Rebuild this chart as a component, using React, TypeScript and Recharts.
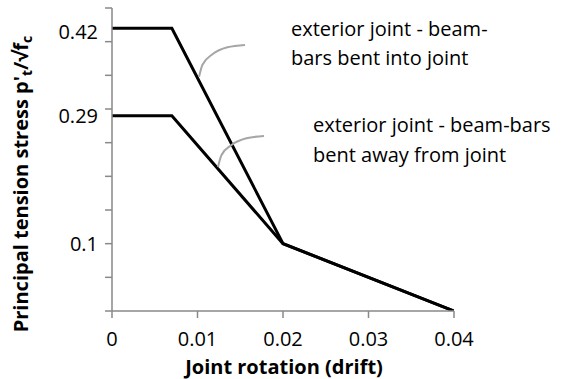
import React from 'react';
import { LineChart, Line, XAxis, YAxis, Customized } from 'recharts';

// drift values (x) and principal tension stress (y)
const driftInto = [0, 0.007, 0.02, 0.04];
const stressInto = [0.42, 0.42, 0.1, 0];
const driftAway = [0, 0.007, 0.02, 0.04];
const stressAway = [0.29, 0.29, 0.1, 0];

// grey pointer arcs linking the notes to the curves
const arcIntoX = [0.01018, 0.01058, 0.01175, 0.0135, 0.01556];
const arcIntoY = [0.3477, 0.3658, 0.3813, 0.3917, 0.3952];
const arcAwayX = [0.0124, 0.01281, 0.01398, 0.01572, 0.01778];
const arcAwayY = [0.214, 0.2316, 0.2465, 0.2565, 0.26];

const xTicks = [0, 0.01, 0.02, 0.03, 0.04];
const yTickMarks = [0, 0.05, 0.1, 0.15, 0.2, 0.25, 0.3, 0.35, 0.4, 0.45];
const yTickLabels = [0.1, 0.29, 0.42];

const noteInto = ['exterior joint - beam-', 'bars bent into joint'];
const noteAway = ['exterior joint - beam-bars', 'bent away from joint'];

const FONT = '"Open Sans", sans-serif';
const AXIS = '#898989';

const zip = (xs: number[], ys: number[]) => xs.map((x, i) => ({ x, y: ys[i] }));

const intoData = zip(driftInto, stressInto);
const awayData = zip(driftAway, stressAway);
const arcIntoData = zip(arcIntoX, arcIntoY);
const arcAwayData = zip(arcAwayX, arcAwayY);

const yTicksAll = [...yTickMarks, ...yTickLabels].filter((v, i, a) => a.indexOf(v) === i).sort((a, b) => a - b);

function YTick(props: any) {
  const { x, y, payload } = props;
  const v = payload.value;
  const shift = v === 0.42 ? 4 : 0;
  return (
    <g>
      {yTickMarks.includes(v) && <line x1={x - 7} x2={x} y1={y} y2={y} stroke={AXIS} strokeWidth={1.5} />}
      {yTickLabels.includes(v) && (
        <text x={x - 14} y={y + shift} dy="0.35em" textAnchor="end" fontSize={20} fontFamily={FONT} fill="#000">
          {v}
        </text>
      )}
    </g>
  );
}

function Notes() {
  return (
    <g fontFamily={FONT} fill="#000">
      <text x={291} y={36} fontSize={20}>{noteInto[0]}</text>
      <text x={291} y={65} fontSize={20}>{noteInto[1]}</text>
      <text x={313} y={132} fontSize={20}>{noteAway[0]}</text>
      <text x={313} y={162} fontSize={20}>{noteAway[1]}</text>
      <text x={284} y={374} fontSize={20} fontWeight="bold" textAnchor="middle">
        Joint rotation (drift)
      </text>
      <text transform="translate(28,184) rotate(-90)" fontSize={20} fontWeight="bold" textAnchor="middle">
        Principal tension stress p'
        <tspan fontSize={14} dy={4}>t</tspan>
        <tspan dy={-4}>/√f</tspan>
        <tspan fontSize={14} dy={4}>c</tspan>
      </text>
    </g>
  );
}

export default function App() {
  return (
    <div style={{ position: 'absolute', left: 0, top: 0, background: '#fff' }}>
      <LineChart width={563} height={379} margin={{ top: 8, right: 109, bottom: 0, left: 0 }}>
        <XAxis
          type="number"
          dataKey="x"
          domain={[0, 0.04]}
          ticks={xTicks}
          interval={0}
          height={68}
          stroke={AXIS}
          strokeWidth={1.5}
          tickSize={7}
          tickMargin={14}
          tick={{ fontSize: 20, fontFamily: FONT, fill: '#000' }}
          allowDataOverflow
        />
        <YAxis
          type="number"
          dataKey="y"
          domain={[0, 0.45]}
          ticks={yTicksAll}
          interval={0}
          width={112}
          stroke={AXIS}
          strokeWidth={1.5}
          tickLine={false}
          tickSize={0}
          tickMargin={0}
          tick={<YTick />}
          allowDataOverflow
        />
        <Line data={intoData} dataKey="y" type="linear" stroke="#000" strokeWidth={3} dot={false} activeDot={false} isAnimationActive={false} />
        <Line data={awayData} dataKey="y" type="linear" stroke="#000" strokeWidth={3} dot={false} activeDot={false} isAnimationActive={false} />
        <Line data={arcIntoData} dataKey="y" type="monotone" stroke="#a6a6a6" strokeWidth={2} dot={false} activeDot={false} isAnimationActive={false} />
        <Line data={arcAwayData} dataKey="y" type="monotone" stroke="#a6a6a6" strokeWidth={2} dot={false} activeDot={false} isAnimationActive={false} />
        <Customized component={Notes} />
      </LineChart>
    </div>
  );
}
